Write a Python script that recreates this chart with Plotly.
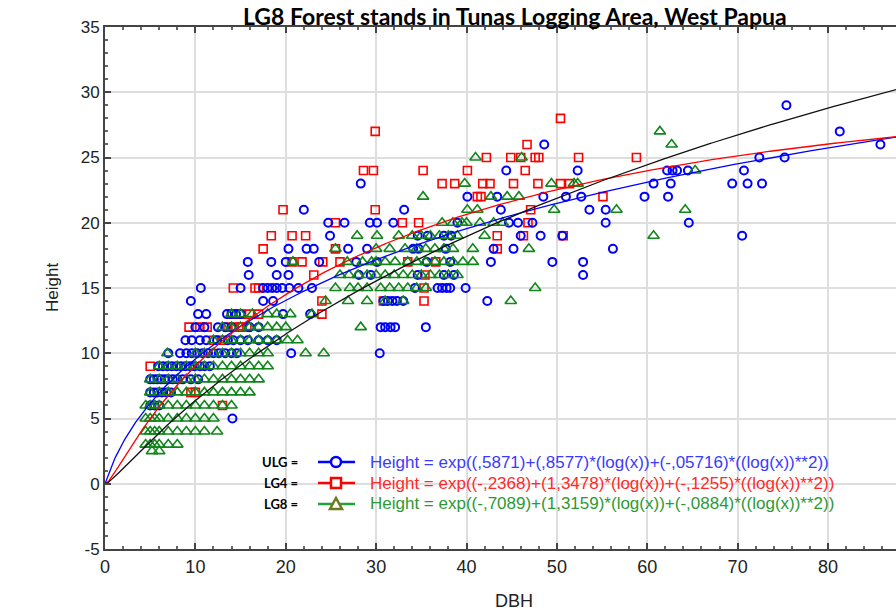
import numpy as np
import plotly.graph_objects as go

# ---------------- data ----------------
# ULG (blue circles): one height level per row, DBH values at that level
ulg_levels = [29, 27, 26, 25, 24, 23, 22, 21, 20, 19, 18, 17, 16, 15, 14, 13, 12, 11, 10, 9, 8, 7, 6, 5]
ulg_dbh = [
    [75.4],
    [81.3],
    [48.6, 85.8],
    [72.4, 75.2],
    [44.4, 52.3, 62.2, 62.8, 63.3, 64.5, 70.7],
    [28.3, 60.7, 62.6, 69.4, 71.1, 72.7],
    [40.1, 43.4, 48.5, 51.0, 52.7, 59.7, 62.3],
    [22.0, 33.1, 43.8, 53.6, 55.4],
    [24.7, 26.5, 29.3, 30.1, 31.9, 39.0, 44.7, 45.7, 47.3, 55.4, 64.6],
    [24.9, 34.6, 35.7, 37.5, 38.3, 46.0, 48.2, 50.6, 70.5],
    [20.3, 22.3, 23.1, 26.9, 29.0, 34.1, 34.7, 37.7, 43.0, 45.2, 56.2],
    [15.8, 18.4, 20.0, 23.7, 27.8, 30.1, 35.6, 38.2, 42.7, 49.5, 52.9],
    [15.9, 19.0, 20.3, 28.1, 29.4, 34.6, 37.5, 38.6, 52.9],
    [10.6, 15.0, 17.5, 18.0, 18.5, 19.0, 19.6, 20.4, 21.4, 22.9, 34.3, 36.8, 37.3, 37.8, 38.2, 39.9],
    [9.5, 17.5, 18.6, 30.8, 31.3, 31.8, 32.3, 33.0, 42.3],
    [10.3, 11.2, 13.5, 14.0, 14.5, 15.0, 19.7, 22.7],
    [10.0, 11.0, 12.5, 13.3, 14.0, 16.0, 17.0, 30.5, 31.0, 31.6, 32.1, 35.5],
    [8.9, 9.6, 10.5, 11.2, 12.4, 13.6, 14.2, 15.0, 15.8, 17.0, 18.0, 19.0],
    [7.0, 8.3, 9.0, 9.6, 10.2, 10.8, 11.4, 12.0, 12.6, 13.3, 14.0, 14.6, 20.6, 30.4],
    [5.9, 6.4, 6.9, 7.4, 7.9, 8.4, 8.9, 9.4, 9.9, 10.5, 11.0, 11.6],
    [5.0, 5.4, 5.8, 6.2, 6.6, 7.0, 7.5, 8.0, 8.6, 9.5, 10.3],
    [5.0, 5.4, 5.8, 6.3, 6.8, 7.3],
    [5.0, 5.5, 6.0],
    [14.1],
]

# LG4 (red squares)
lg4_levels = [28, 27, 26, 25, 24, 23, 22, 21, 20, 19, 18, 17, 16, 15, 14, 13, 12, 11, 9, 7, 6]
lg4_dbh = [
    [50.4],
    [29.9],
    [46.7],
    [42.2, 44.9, 46.0, 47.6, 48.0, 52.4, 58.8],
    [28.6, 29.7, 35.2, 40.1, 46.5],
    [37.3, 38.7, 41.8, 42.6, 45.2, 47.9, 50.4, 51.4],
    [41.2, 41.6, 55.1],
    [19.7, 29.9, 47.1],
    [25.5, 32.9, 34.7, 46.8],
    [18.4, 20.7, 22.2, 43.4, 46.3, 50.7],
    [17.5, 25.5, 43.4],
    [20.7, 21.8, 24.1, 26.0, 33.5, 36.6],
    [23.1, 35.4],
    [14.2, 16.6, 17.0, 35.3],
    [24.0, 30.8, 35.3],
    [14.0, 15.0, 16.0, 17.0, 24.0],
    [9.3, 10.5, 11.3, 13.6, 14.3, 15.0, 15.7],
    [12.0, 13.0],
    [5.0],
    [9.5, 10.0],
    [13.0],
]

# LG8 (green triangles)
lg8_levels = [27, 26, 25, 24, 23, 22, 21, 20, 19, 18, 17, 16, 15, 14, 13, 12, 11, 10, 9, 8, 7, 6, 5, 4, 3, 2.5]
lg8_dbh = [
    [61.4],
    [62.7],
    [41.0, 46.1],
    [65.3],
    [39.8, 49.4, 51.9, 52.3],
    [35.2, 42.7, 44.5, 45.8],
    [40.1, 41.2, 49.7, 56.6, 64.2],
    [37.3, 38.5, 39.5, 40.0, 41.5, 43.0, 44.0],
    [27.9, 30.1, 32.5, 34.0, 35.0, 36.0, 37.0, 38.0, 39.0, 42.0, 60.7],
    [25.5, 30.0, 31.5, 33.2, 34.5, 35.5, 36.5, 37.5, 38.5, 40.7, 46.9],
    [20.8, 26.8, 28.5, 29.5, 30.0, 31.0, 32.1, 33.5, 34.5, 35.5, 36.5, 37.5, 38.5, 39.6, 40.7],
    [26.0, 27.0, 28.0, 29.0, 30.0, 31.0, 32.0, 33.0, 34.0, 35.0, 36.0, 37.0, 38.0, 39.0],
    [25.5, 27.1, 28.0, 29.0, 30.5, 31.5, 32.5, 33.5, 34.5, 35.5, 47.6],
    [24.4, 26.9, 29.0, 31.0, 33.0, 44.9],
    [14.0, 15.0, 16.3, 18.0, 19.0, 20.5, 22.9],
    [13.0, 14.0, 15.0, 16.0, 17.0, 18.0, 19.0, 20.0, 28.3],
    [12.0, 13.0, 14.0, 15.0, 16.0, 17.0, 18.0, 19.0, 20.2, 21.3],
    [6.9, 10.0, 11.0, 12.0, 13.0, 14.0, 15.0, 16.0, 17.0, 18.0, 22.2, 24.2],
    [6.0, 7.0, 8.0, 9.0, 10.0, 11.0, 12.0, 13.0, 14.0, 15.0, 16.0, 17.0, 18.0],
    [5.0, 6.0, 7.0, 8.0, 9.0, 10.0, 11.0, 12.0, 13.0, 14.0, 15.0, 16.0, 17.0],
    [5.0, 6.0, 7.0, 8.0, 9.0, 10.0, 11.0, 12.0, 13.0, 14.0, 15.0, 16.0],
    [4.5, 5.0, 5.5, 6.0, 7.0, 8.0, 9.0, 10.0, 11.0, 12.0, 13.0, 14.0],
    [4.5, 5.0, 5.5, 6.0, 7.0, 8.0, 9.0, 10.0, 11.0, 12.0],
    [4.5, 5.0, 5.5, 6.0, 7.0, 8.0, 9.0, 10.0, 11.0, 12.4],
    [4.5, 5.0, 5.5, 6.0, 7.0, 8.0],
    [5.2, 6.0],
]

# fitted model coefficients: Height = exp(a + b*ln(x) + c*ln(x)^2)
ulg_coef = [0.5871, 0.8577, -0.05716]
lg4_coef = [-0.2368, 1.3478, -0.1255]
lg8_coef = [-0.7089, 1.3159, -0.0884]

series_names = ["ULG =", "LG4 =", "LG8 ="]
equations = [
    "Height = exp((,5871)+(,8577)*(log(x))+(-,05716)*((log(x))**2))",
    "Height = exp((-,2368)+(1,3478)*(log(x))+(-,1255)*((log(x))**2))",
    "Height = exp((-,7089)+(1,3159)*(log(x))+(-,0884)*((log(x))**2))",
]

x_ticks = [0, 10, 20, 30, 40, 50, 60, 70, 80]
y_ticks = [-5, 0, 5, 10, 15, 20, 25, 30, 35]
y_tick_text = ["-5", "0", "5", "10", "15", "20", "25", "30", "35"]

title_text = "LG8 Forest stands in Tunas Logging Area, West Papua"
x_title = "DBH"
y_title = "Height"


def flatten(levels, rows):
    xs, ys = [], []
    for h, row in zip(levels, rows):
        for d in row:
            xs.append(d)
            ys.append(h)
    return xs, ys


def model(coef, x):
    x = np.asarray(x, dtype=float)
    out = np.zeros_like(x)
    pos = x > 0
    lx = np.log(x[pos])
    out[pos] = np.exp(coef[0] + coef[1] * lx + coef[2] * lx ** 2)
    return out


BLUE = "#0000ff"
RED = "#ff0000"
GREEN = "#11861b"

fig = go.Figure()

ux, uy = flatten(ulg_levels, ulg_dbh)
rx, ry = flatten(lg4_levels, lg4_dbh)
gx, gy = flatten(lg8_levels, lg8_dbh)

fig.add_trace(go.Scatter(x=rx, y=ry, mode="markers", showlegend=False,
                         marker=dict(symbol="square-open", size=8, color=RED, line=dict(width=1.6, color=RED))))
fig.add_trace(go.Scatter(x=ux, y=uy, mode="markers", showlegend=False,
                         marker=dict(symbol="circle-open", size=8, color=BLUE, line=dict(width=2, color=BLUE))))
fig.add_trace(go.Scatter(x=gx, y=gy, mode="markers", showlegend=False,
                         marker=dict(symbol="triangle-up-open", size=10, color=GREEN, line=dict(width=1.6, color=GREEN))))

xc = np.linspace(0, 88, 600)
fig.add_trace(go.Scatter(x=xc, y=model(ulg_coef, xc), mode="lines", showlegend=False,
                         line=dict(color=BLUE, width=1.3)))
fig.add_trace(go.Scatter(x=xc, y=model(lg4_coef, xc), mode="lines", showlegend=False,
                         line=dict(color=RED, width=1.3)))
fig.add_trace(go.Scatter(x=xc, y=model(lg8_coef, xc), mode="lines", showlegend=False,
                         line=dict(color="#111111", width=1.3)))

# ---------------- layout geometry ----------------
W, H = 896, 613
ML, MR, MT, MB = 105, 0, 27, 64
PW, PH = W - ML - MR, H - MT - MB


def px_x(p):
    return (p - ML) / PW


def px_y(p):
    return (H - MB - p) / PH


annotations = []
shapes = []

# custom legend
row_px = [462, 483, 504]
line_cols = [BLUE, RED, "#22a33a"]
text_cols = ["#3a3aff", "#ff2a2a", "#2b9a35"]
for i in range(3):
    yy = px_y(row_px[i])
    annotations.append(dict(text="<b>%s</b>" % series_names[i], x=px_x(300), y=yy, xref="paper", yref="paper",
                            xanchor="right", yanchor="middle", showarrow=False,
                            font=dict(family="Lato, Liberation Sans", size=13, color="#000000")))
    annotations.append(dict(text=equations[i], x=px_x(368), y=yy, xref="paper", yref="paper",
                            xanchor="left", yanchor="middle", showarrow=False,
                            font=dict(family="Liberation Sans", size=17, color=text_cols[i])))
    shapes.append(dict(type="line", xref="paper", yref="paper", x0=px_x(318), x1=px_x(355), y0=yy, y1=yy,
                       line=dict(color=line_cols[i], width=2.5)))
    if i == 0:
        shapes.append(dict(type="circle", xref="paper", yref="paper", xsizemode="pixel", ysizemode="pixel",
                           xanchor=px_x(336), yanchor=yy, x0=-5, x1=5, y0=-5, y1=5,
                           fillcolor="white", line=dict(color=BLUE, width=2.5)))
    elif i == 1:
        shapes.append(dict(type="rect", xref="paper", yref="paper", xsizemode="pixel", ysizemode="pixel",
                           xanchor=px_x(336), yanchor=yy, x0=-5, x1=5, y0=-5, y1=5,
                           fillcolor="white", line=dict(color=RED, width=2.5)))
    else:
        shapes.append(dict(type="path", xref="paper", yref="paper", xsizemode="pixel", ysizemode="pixel",
                           xanchor=px_x(336), yanchor=yy, path="M-6,-5 L6,-5 L0,6 Z",
                           fillcolor="white", line=dict(color="#6d7a1c", width=2.5)))

# title and axis titles
annotations.append(dict(text="<b>%s</b>" % title_text, x=px_x(515), y=px_y(0), xref="paper", yref="paper",
                        xanchor="center", yanchor="top", showarrow=False,
                        font=dict(family="Lato, Open Sans", size=23, color="#000000")))
annotations.append(dict(text=y_title, x=px_x(52), y=px_y(288), xref="paper", yref="paper",
                        xanchor="center", yanchor="middle", textangle=-90, showarrow=False,
                        font=dict(family="Liberation Sans", size=17, color="#222222")))
annotations.append(dict(text=x_title, x=px_x(514), y=px_y(601), xref="paper", yref="paper",
                        xanchor="center", yanchor="middle", showarrow=False,
                        font=dict(family="Liberation Sans Narrow, Liberation Sans", size=18, color="#222222")))

fig.update_layout(
    width=W, height=H,
    margin=dict(l=ML, r=MR, t=MT, b=MB, pad=0),
    paper_bgcolor="white", plot_bgcolor="white",
    showlegend=False,
    annotations=annotations,
    shapes=shapes,
)

fig.update_xaxes(
    range=[0, PW / 9.0375], tickvals=x_ticks, ticktext=[str(v) for v in x_ticks],
    showgrid=True, gridcolor="#dedede", gridwidth=1.5,
    showline=True, linecolor="#444444", linewidth=2, mirror="allticks",
    ticks="inside", ticklen=6, tickwidth=1.5, tickcolor="#444444",
    minor=dict(dtick=2, ticks="inside", ticklen=3, tickcolor="#666666", showgrid=False),
    zeroline=False,
    tickfont=dict(family="Liberation Sans Narrow, Liberation Sans", size=18, color="#222222"),
)
fig.update_yaxes(
    range=[-5, 35], tickvals=y_ticks, ticktext=y_tick_text,
    showgrid=True, gridcolor="#dedede", gridwidth=1.5,
    showline=True, linecolor="#444444", linewidth=2, mirror=False,
    ticks="inside", ticklen=6, tickwidth=1.5, tickcolor="#444444",
    minor=dict(dtick=1, ticks="inside", ticklen=3, tickcolor="#666666", showgrid=False),
    zeroline=False,
    tickfont=dict(family="Liberation Sans", size=17, color="#222222"),
)

fig.write_html("out.html")
